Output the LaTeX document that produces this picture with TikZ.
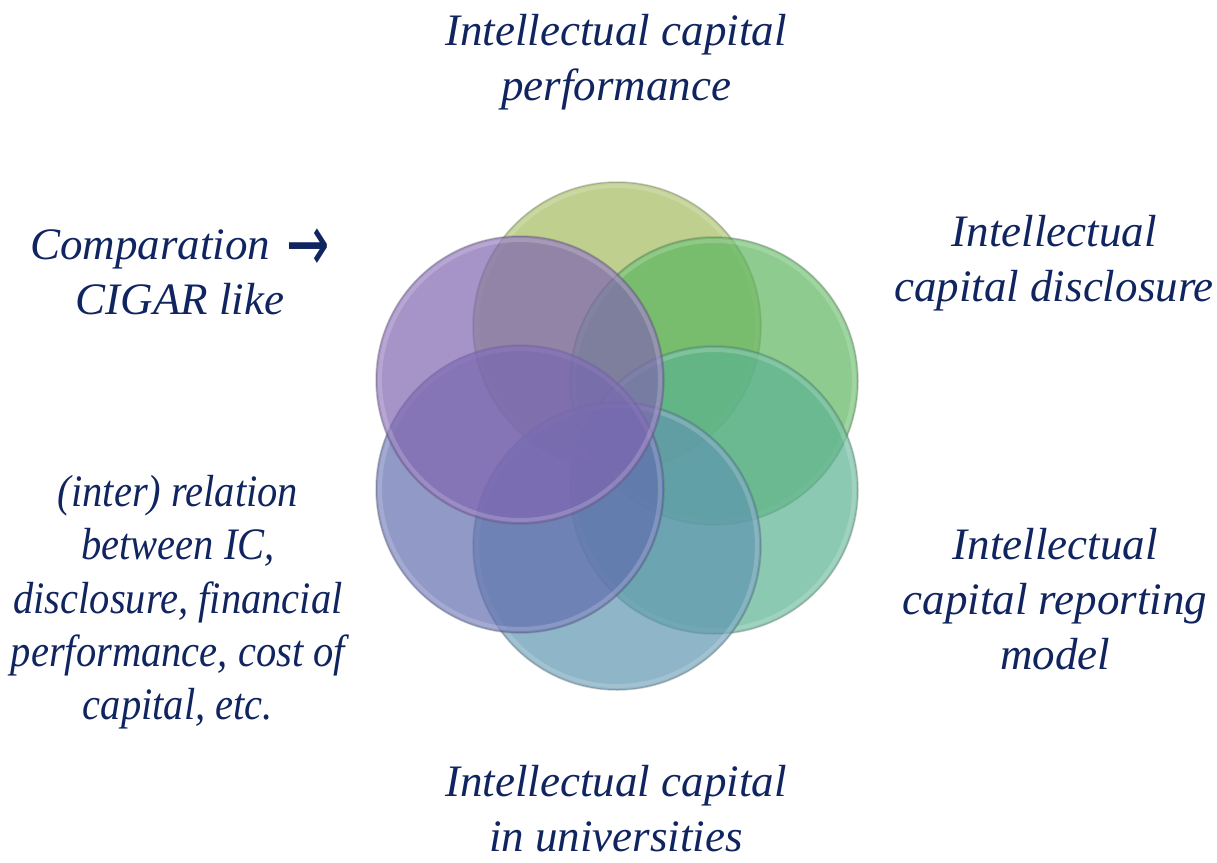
\documentclass[tikz,border=0pt]{standalone}
\usepackage{fontspec}
\setmainfont{Liberation Serif}
\newfontfamily\arrowfont{DejaVu Sans}
\definecolor{navy}{RGB}{16,36,96}
\definecolor{cA}{RGB}{162,186,94}
\definecolor{cB}{RGB}{92,181,94}
\definecolor{cC}{RGB}{91,178,146}
\definecolor{cD}{RGB}{95,149,176}
\definecolor{cE}{RGB}{98,109,175}
\definecolor{cF}{RGB}{128,101,176}
\begin{document}
\begin{tikzpicture}[x=1pt,y=-1pt,
  petal/.style={circle, minimum size=288pt, inner sep=0pt, draw=black!65,
    draw opacity=0.3, line width=1.5pt, fill opacity=0.7},
  rim/.style={draw=white, draw opacity=0.18, line width=4pt},
  lbl/.style={text=navy, align=center, inner sep=0pt,
    font=\itshape\fontsize{45}{55}\selectfont}]
\useasboundingbox (0,0) rectangle (1217,862);
\node[petal, fill=cA] (p1) at (617,326) {};
\draw[rim] (p1.center) circle[radius=140];
\node[petal, fill=cB] (p2) at (714,381) {};
\draw[rim] (p2.center) circle[radius=140];
\node[petal, fill=cC] (p3) at (714,490) {};
\draw[rim] (p3.center) circle[radius=140];
\node[petal, fill=cD] (p4) at (617,546) {};
\draw[rim] (p4.center) circle[radius=140];
\node[petal, fill=cE] (p5) at (520,489) {};
\draw[rim] (p5.center) circle[radius=140];
\node[petal, fill=cF] (p6) at (520,380) {};
\draw[rim] (p6.center) circle[radius=140];

\node[lbl] (t1) at (616,62) {\strut Intellectual capital\\\strut performance};
\node[lbl] (t2) at (1054,262.5) {\strut Intellectual\\\strut capital disclosure};
\node[lbl] (t3) at (1055,603) {\strut Intellectual\\\strut capital reporting\\\strut model};
\node[lbl] (t4) at (616,813) {\strut Intellectual capital\\\strut in universities};
\node[lbl] (t5) at (180,275.5) {\strut Comparation\hspace{0.35em}\raisebox{-12pt}{\scalebox{1.15}[1.8]{\arrowfont\upshape →}}\\\strut CIGAR like};
\node[lbl, font=\itshape\fontsize{45}{53.3}\selectfont\addfontfeature{FakeStretch=0.9}] (t6) at (178,602.5) {\strut (inter) relation\\\strut between IC,\\\strut disclosure, financial\\\strut performance, cost of\\\strut capital, etc.};
\end{tikzpicture}
\end{document}
